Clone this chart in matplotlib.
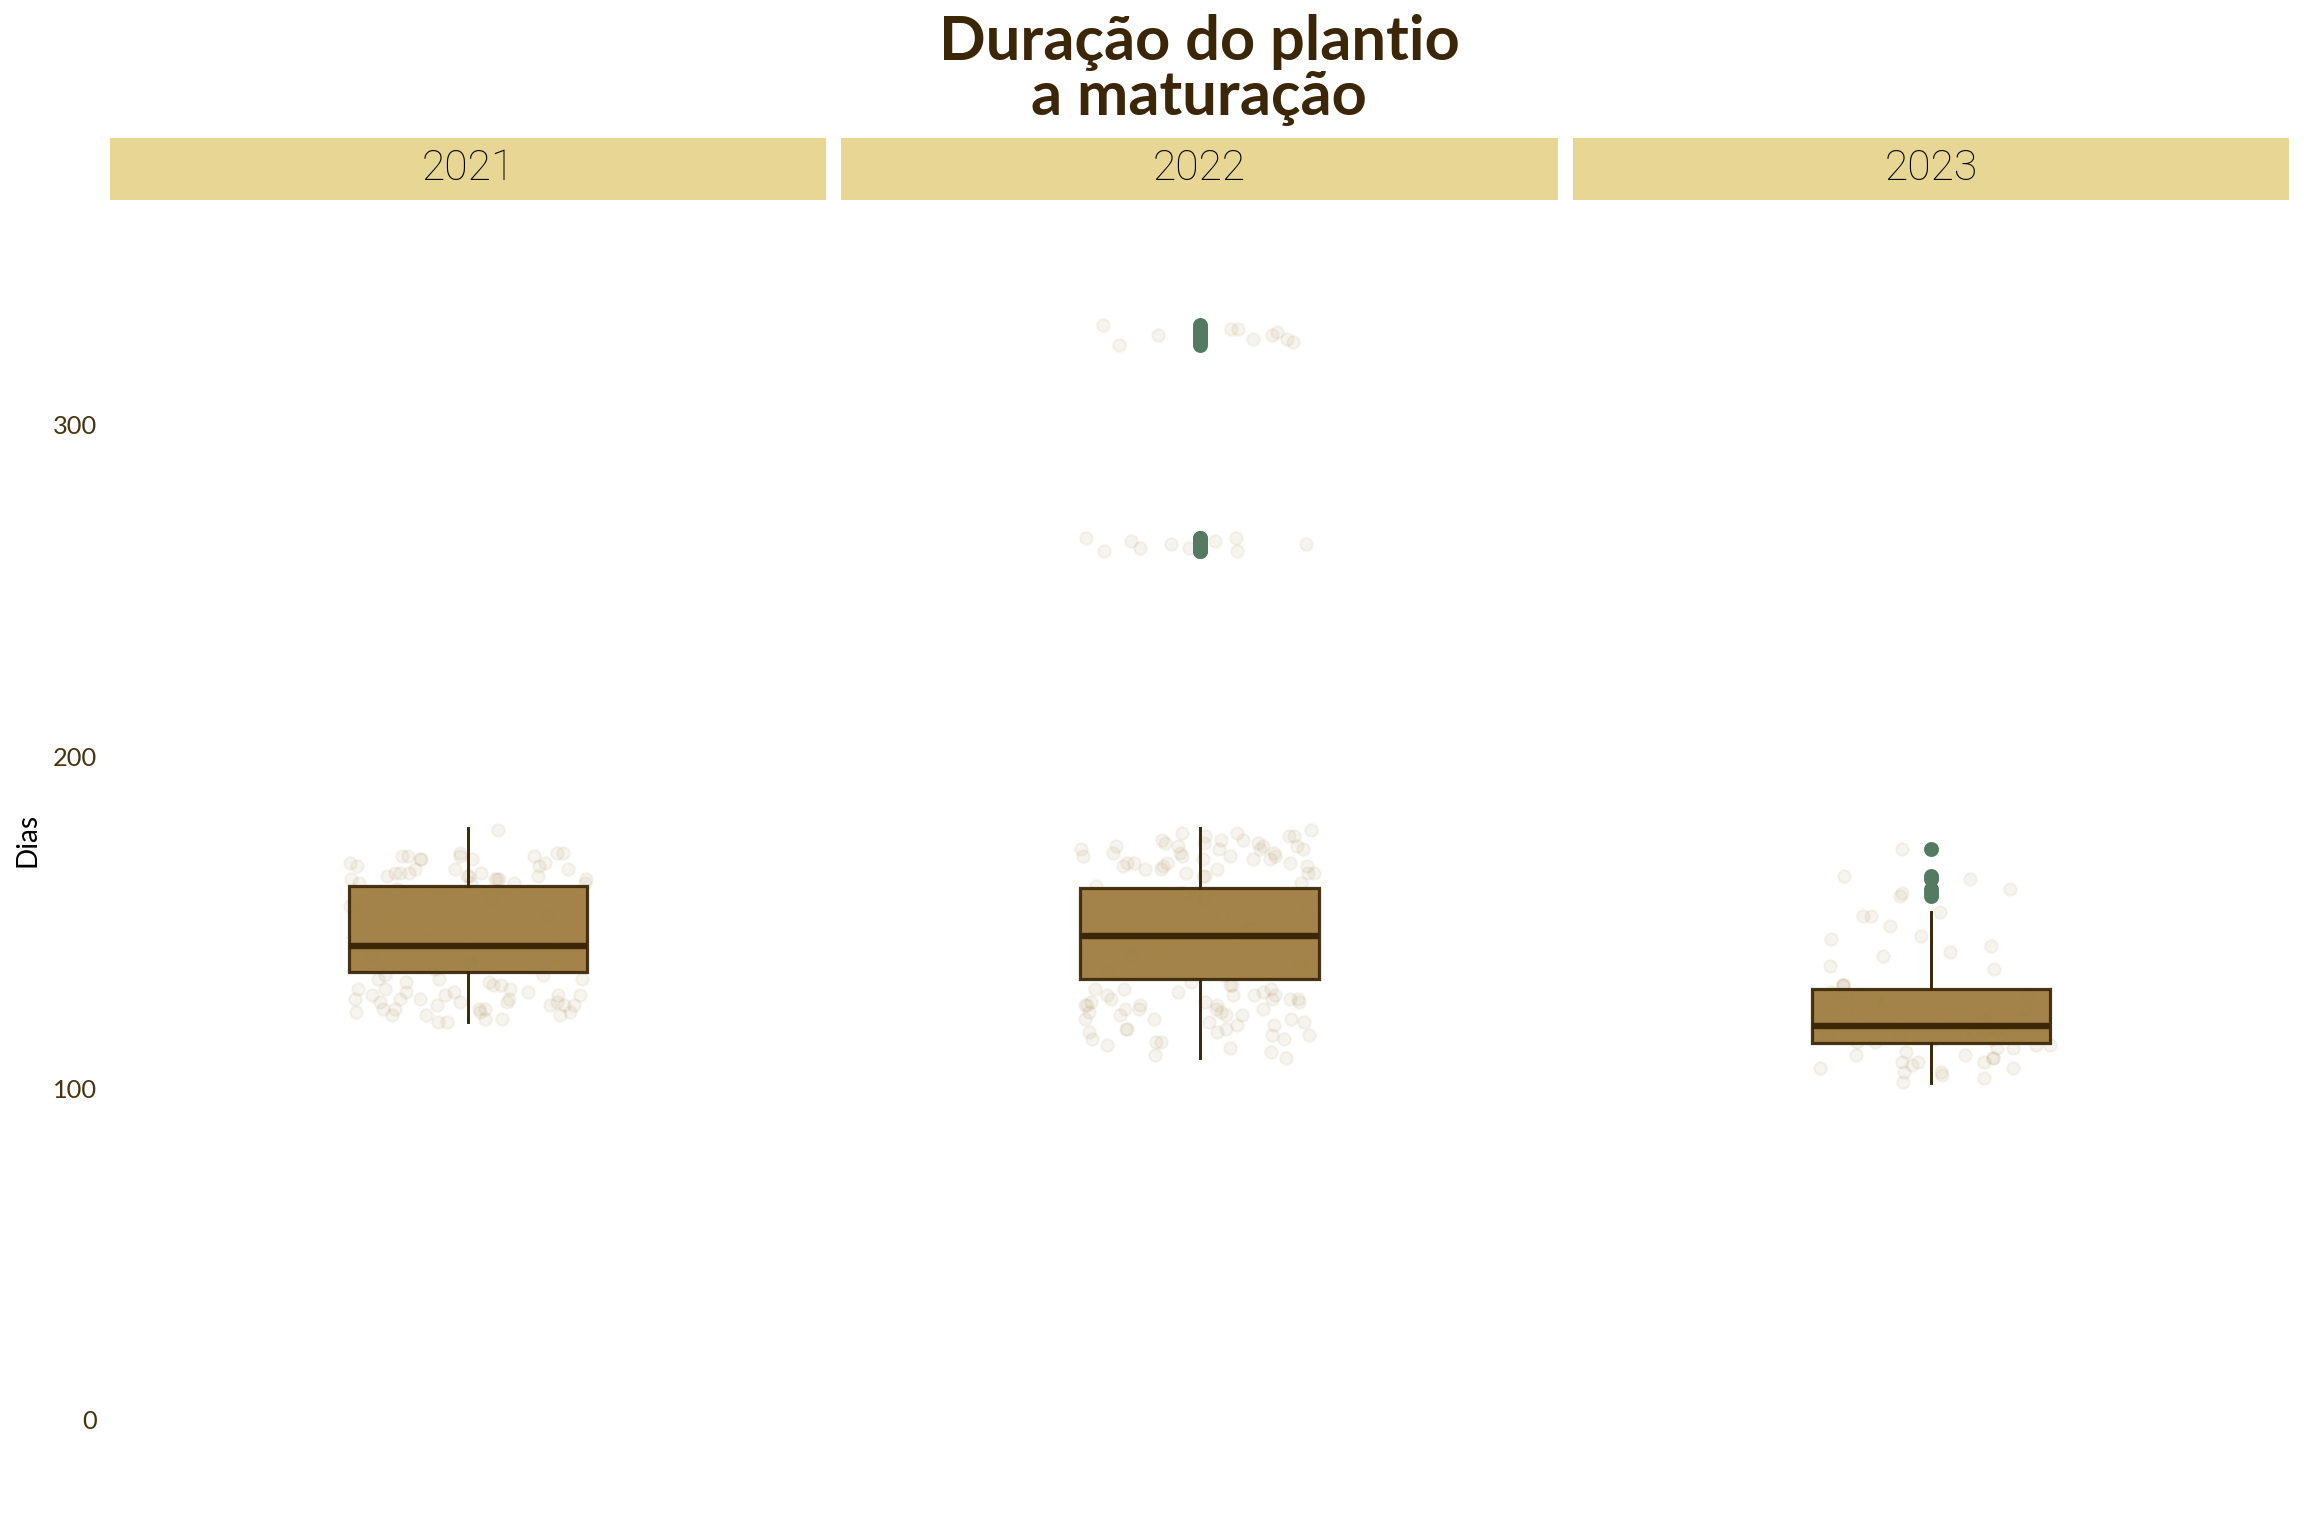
import numpy as np
import matplotlib
matplotlib.use("Agg")
import matplotlib.pyplot as plt

# ---------------- data ----------------
years = ["2021", "2022", "2023"]

# box statistics (days)
q1 = [135.0, 133.0, 113.5]
medians = [143.0, 146.0, 118.7]
q3 = [161.0, 160.5, 130.0]
whis_lo = [120.0, 109.0, 101.5]
whis_hi = [178.5, 178.5, 153.0]

# individual observations (days)
points_2021 = [178, 171, 170, 170, 169, 171, 168, 168, 167, 170, 169, 166, 165, 166, 164,
               165, 163, 164, 163, 162, 165, 164, 163, 162, 167, 169, 171, 166, 163, 162,
               164, 170, 163, 165, 162,
               160, 158, 155, 152, 150, 148, 146, 144, 143, 142, 141, 140, 139, 138, 137,
               136, 157, 153, 149, 145,
               134, 134, 133, 133, 132, 131, 131, 130, 130, 129, 129, 128, 128, 128, 127,
               127, 127, 126, 126, 126, 125, 125, 125, 124, 124, 124, 123, 123, 122, 122,
               121, 121, 120, 120, 132, 130, 128, 126, 124, 122, 129, 127, 125, 123, 133]
points_2022 = [178, 177, 177, 176, 176, 175, 175, 175, 174, 174, 173, 173, 173, 172, 172,
               172, 171, 171, 171, 170, 170, 170, 169, 169, 169, 168, 168, 168, 167, 167,
               167, 166, 166, 166, 165, 165, 165, 164, 164, 176, 174, 172, 170, 168, 173,
               162, 161, 159, 157, 155, 153, 151, 150, 148, 147, 146, 145, 144, 143, 141,
               140, 138, 137, 135, 134, 158, 152, 142, 139, 136,
               132, 131, 131, 130, 130, 129, 129, 128, 128, 128, 127, 127, 127, 126, 126,
               126, 125, 125, 125, 124, 124, 124, 123, 123, 122, 122, 121, 121, 120, 120,
               119, 119, 118, 118, 117, 117, 116, 116, 115, 115, 114, 114, 113, 112, 111,
               110, 109, 130, 127, 124, 121, 118, 125, 128, 122,
               330, 329, 329, 328, 327, 327, 326, 326, 325, 324,
               266, 266, 265, 265, 264, 264, 263, 263, 262, 262]
points_2023 = [172, 164, 163, 160, 159, 158, 153, 152, 152, 149, 146, 145, 143, 141, 140,
               137, 136, 131, 131, 131,
               129, 128, 127, 126, 125, 124, 123, 122, 121, 120, 119, 119, 118, 118, 117,
               117, 116, 116, 115, 115, 114, 114, 120, 122, 124, 126, 128, 119, 117, 121,
               113, 113, 112, 112, 111, 110, 110, 109, 109, 108, 108, 108, 107, 106, 106,
               105, 105, 104, 103, 102]
points = [points_2021, points_2022, points_2023]

title = "Duração do plantio\na maturação"
y_label = "Dias"
y_ticks = [0, 100, 200, 300]

# ---------------- style ----------------
BROWN_DARK = "#3B2708"
BOX_FILL = "#9C7A3B"
POINT_COL = "#9C7A3B"
OUT_COL = "#557A62"
STRIP_COL = "#E8D694"
TICK_COL = "#4A3410"
FONT = ["Lato", "DejaVu Sans"]
STRIP_FONT = ["Roboto", "DejaVu Sans"]

W, H = 2304, 1536
fig = plt.figure(figsize=(12, 8), dpi=192)

panel_x = [(110, 826), (841, 1558), (1573, 2289)]
ax_top, ax_bot = 201, 1478
strip_top, strip_bot = 138, 200

rng = np.random.default_rng(7)  # horizontal jitter only

for i, (x0, x1) in enumerate(panel_x):
    ax = fig.add_axes([x0 / W, (H - ax_bot) / H, (x1 - x0) / W, (ax_bot - ax_top) / H])
    vals = np.array(points[i], dtype=float)
    jit = rng.uniform(-0.2, 0.2, size=len(vals))
    ax.scatter(1 + jit, vals, s=22, color=POINT_COL, alpha=0.08, linewidths=0.8,
               edgecolors=POINT_COL, zorder=1)
    outl = vals[(vals > whis_hi[i]) | (vals < whis_lo[i])]
    stats = [dict(med=medians[i], q1=q1[i], q3=q3[i], whislo=whis_lo[i],
                  whishi=whis_hi[i], fliers=outl, label=years[i])]
    ax.bxp(stats, positions=[1], widths=0.4, patch_artist=True, showcaps=False,
           boxprops=dict(facecolor=BOX_FILL, edgecolor=BROWN_DARK, linewidth=1.2, alpha=0.93),
           medianprops=dict(color=BROWN_DARK, linewidth=2.4),
           whiskerprops=dict(color=BROWN_DARK, linewidth=1.1),
           flierprops=dict(marker="o", markersize=4.6, markerfacecolor=OUT_COL,
                           markeredgecolor=OUT_COL, alpha=1.0),
           zorder=2)
    ax.set_xlim(0.4, 1.6)
    ax.set_ylim(-17.5, 367.5)
    for s in ax.spines.values():
        s.set_visible(False)
    ax.set_xticks([])
    ax.tick_params(axis="y", length=0, pad=5, labelsize=9.5, labelcolor=TICK_COL)
    ax.set_yticks(y_ticks)
    if i == 0:
        ax.set_yticklabels([str(t) for t in y_ticks], fontfamily=FONT)
        ax.set_ylabel(y_label, fontsize=10.5, color="black", fontfamily=FONT)
        ax.yaxis.set_label_coords((40 - x0) / (x1 - x0), 0.5)
    else:
        ax.set_yticklabels([])
    # strip
    sax = fig.add_axes([x0 / W, (H - strip_bot) / H, (x1 - x0) / W, (strip_bot - strip_top) / H])
    sax.set_facecolor(STRIP_COL)
    sax.set_xticks([]); sax.set_yticks([])
    for s in sax.spines.values():
        s.set_visible(False)
    sax.text(0.5, 0.5, years[i], ha="center", va="center", fontsize=16,
             fontfamily=STRIP_FONT, fontweight="light", color="#000000",
             transform=sax.transAxes)

fig.text(1199 / W, 1 - 14 / H, title, ha="center", va="top", fontsize=23,
         fontweight="bold", color=BROWN_DARK, fontfamily=FONT, linespacing=0.95)

fig.savefig("out.png", dpi=192, facecolor="white")
